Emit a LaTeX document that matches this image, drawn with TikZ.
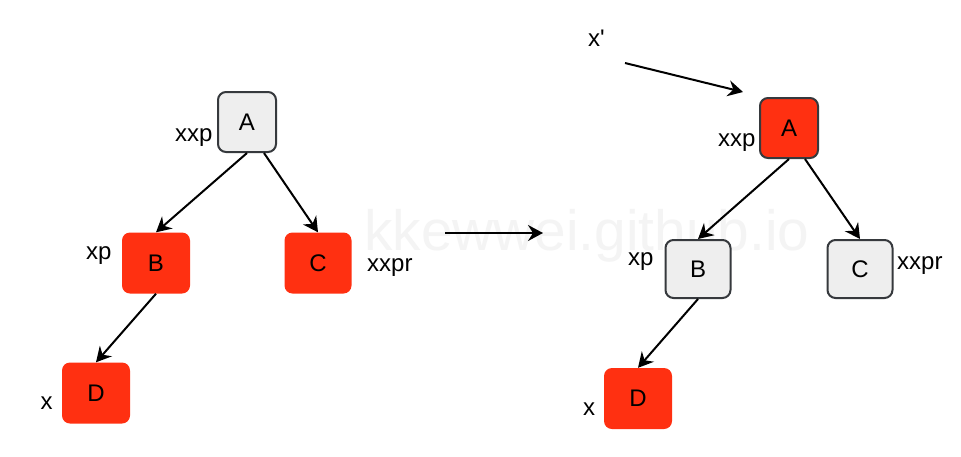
\documentclass[tikz,border=0pt]{standalone}
\usepackage{fontspec}
\setmainfont{Liberation Sans}
\usetikzlibrary{arrows.meta}
\definecolor{nodered}{RGB}{255,48,17}
\definecolor{nodegray}{RGB}{238,238,238}
\definecolor{nodeborder}{RGB}{54,57,61}
\definecolor{wmark}{RGB}{244,244,244}
\tikzset{
  box/.style={rectangle, rounded corners=8pt, inner sep=0pt, font=\fontsize{24}{28}\selectfont},
  graybox/.style={box, fill=nodegray, draw=nodeborder, line width=2pt, minimum width=58pt, minimum height=60pt},
  redbox/.style={box, fill=nodered, minimum width=68pt, minimum height=61pt},
  redbordered/.style={box, fill=nodered, draw=nodeborder, line width=2pt, minimum width=58pt, minimum height=60pt},
  lbl/.style={anchor=base west, inner sep=0pt, font=\fontsize{24}{28}\selectfont},
  edge/.style={line width=2pt, -{Stealth[length=15pt, width=16pt, inset=5pt]}},
}
\begin{document}
\begin{tikzpicture}[x=1pt,y=-1pt]
\useasboundingbox (0,0) rectangle (961,456);
\fill[white] (0,0) rectangle (961,456);
% watermark
\node[anchor=base west, inner sep=0pt, text=wmark, font=\fontsize{56.8}{60}\selectfont] (wm) at (364,250) {kkewwei.github.io};

% left tree
\node[graybox] (A1) at (247,122) {A};
\node[redbox] (B1) at (156,263) {B};
\node[redbox, minimum width=67pt] (C1) at (318,263) {C};
\node[redbox] (D1) at (96,393) {D};
\node[lbl] (lA1) at (175,141.5) {xxp};
\node[lbl] (lB1) at (86,259) {xp};
\node[lbl] (lC1) at (367,271) {xxpr};
\node[lbl] (lD1) at (40.5,409) {x};
\draw[edge] (A1.south) -- (B1.north);
\draw[edge] ([xshift=17pt]A1.south) -- (C1.north);
\draw[edge] (B1.south) -- (D1.north);

% middle arrow
\coordinate (m1) at (445,233);
\coordinate (m2) at (543,233);
\draw[edge] (m1) -- (m2);

% right tree
\node[redbordered] (A2) at (789,128) {A};
\node[graybox, minimum width=65pt, minimum height=58pt] (B2) at (698,269) {B};
\node[graybox, minimum width=65pt, minimum height=58pt] (C2) at (860,269) {C};
\node[redbox] (D2) at (638,398.5) {D};
\node[lbl] (lx) at (588,46) {x\textquotesingle};
\node[lbl] (lA2) at (718,146) {xxp};
\node[lbl] (lB2) at (628,265) {xp};
\node[lbl] (lC2) at (897,269) {xxpr};
\node[lbl] (lD2) at (583,415) {x};
\coordinate (p1) at (625,63);
\coordinate (p2) at (743,92);
\draw[edge] (p1) -- (p2);
\draw[edge] (A2.south) -- (B2.north);
\draw[edge] ([xshift=16pt]A2.south) -- (C2.north);
\draw[edge] (B2.south) -- (D2.north);
\end{tikzpicture}
\end{document}
